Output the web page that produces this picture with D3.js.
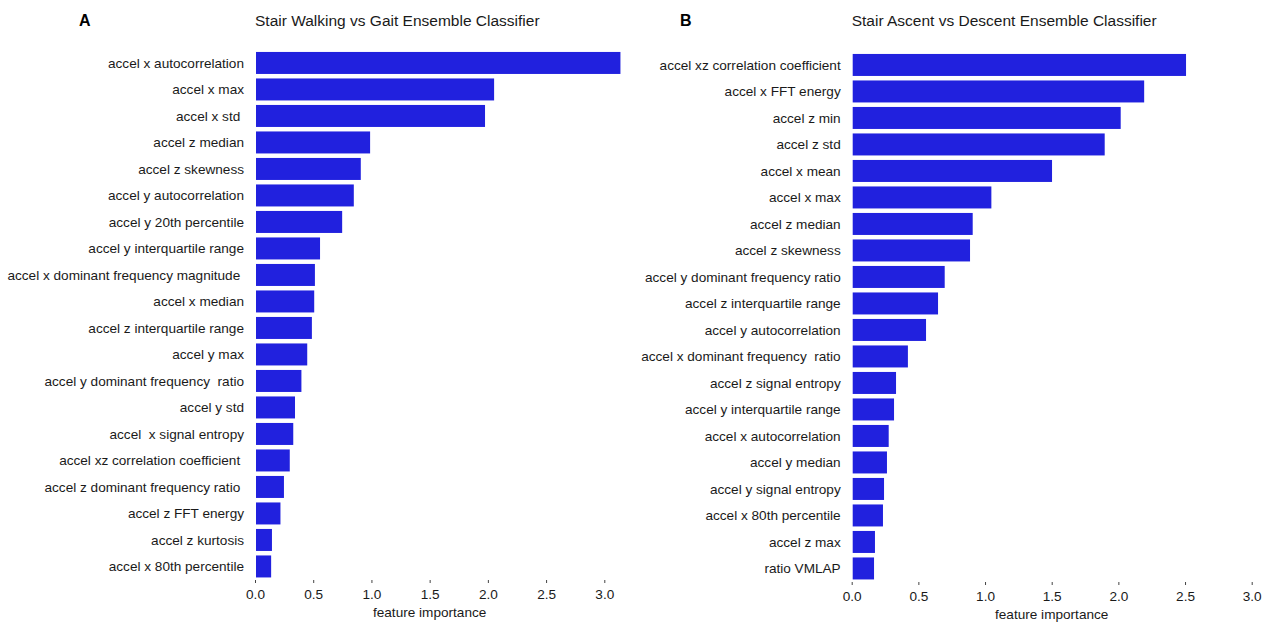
<!DOCTYPE html>
<html>
<head>
<meta charset="utf-8">
<script src="https://cdn.jsdelivr.net/npm/d3@7"></script>
<style>
  html, body { margin: 0; padding: 0; background: #fff; }
  svg { display: block; font-family: "Liberation Sans", Arial, Helvetica, sans-serif; }
  .lbl { white-space: pre; }
</style>
</head>
<body>
<svg id="chart" width="1267" height="623"></svg>
<script>
// Panel A: stair walking vs gait
const featuresA = [
  "accel x autocorrelation", "accel x max", "accel x std ", "accel z median",
  "accel z skewness", "accel y autocorrelation", "accel y 20th percentile",
  "accel y interquartile range", "accel x dominant frequency magnitude ",
  "accel x median", "accel z interquartile range", "accel y max",
  "accel y dominant frequency  ratio", "accel y std", "accel  x signal entropy",
  "accel xz correlation coefficient ", "accel z dominant frequency ratio ",
  "accel z FFT energy", "accel z kurtosis", "accel x 80th percentile"
];
const importanceA = [
  3.13, 2.045, 1.967, 0.98, 0.90, 0.84, 0.74, 0.55, 0.506, 0.50,
  0.48, 0.44, 0.39, 0.335, 0.32, 0.29, 0.24, 0.21, 0.137, 0.13
];

// Panel B: stair ascent vs descent
const featuresB = [
  "accel xz correlation coefficient", "accel x FFT energy", "accel z min",
  "accel z std", "accel x mean", "accel x max", "accel z median",
  "accel z skewness", "accel y dominant frequency ratio",
  "accel z interquartile range", "accel y autocorrelation",
  "accel x dominant frequency  ratio", "accel z signal entropy",
  "accel y interquartile range", "accel x autocorrelation", "accel y median",
  "accel y signal entropy", "accel x 80th percentile", "accel z max", "ratio VMLAP"
];
const importanceB = [
  2.50, 2.186, 2.01, 1.89, 1.495, 1.04, 0.90, 0.88, 0.69, 0.64,
  0.55, 0.414, 0.325, 0.31, 0.27, 0.257, 0.235, 0.227, 0.167, 0.16
];

const tickValues = [0, 0.5, 1.0, 1.5, 2.0, 2.5, 3.0];
const xDomain = [0, 3.0];

const svg = d3.select("#chart");
const barColor = "#2121de";
const textColor = "#1a1a1a";
const labelSize = 13.6;

function drawPanel(cfg) {
  const g = svg.append("g");
  const x = d3.scaleLinear().domain(xDomain).range([cfg.x0, cfg.x1]);
  const y = d3.scaleBand().domain(cfg.features).range([cfg.y0, cfg.y1])
    .paddingInner(0.17).paddingOuter(0.085);
  const data = cfg.features.map((f, i) => ({ f, v: cfg.values[i] }));

  // panel letter and title
  g.append("text").attr("x", cfg.letterX).attr("y", 26)
    .attr("font-size", 16).attr("font-weight", "bold").attr("fill", "#000")
    .text(cfg.letter);
  g.append("text").attr("x", cfg.x0).attr("y", 26)
    .attr("font-size", 15.5).attr("fill", textColor)
    .text(cfg.title);

  // bars
  g.selectAll("rect.bar").data(data).enter().append("rect")
    .attr("class", "bar")
    .attr("x", x(0) + 1)
    .attr("y", d => y(d.f))
    .attr("width", d => x(d.v) - x(0))
    .attr("height", y.bandwidth())
    .attr("fill", barColor);

  // category labels
  g.selectAll("text.lbl").data(data).enter().append("text")
    .attr("class", "lbl")
    .attr("x", x(0) - 11)
    .attr("y", d => y(d.f) + y.bandwidth() / 2)
    .attr("dy", "0.35em")
    .attr("text-anchor", "end")
    .attr("font-size", labelSize)
    .attr("fill", textColor)
    .text(d => d.f);

  // x axis
  const axis = d3.axisBottom(x).tickValues(tickValues)
    .tickFormat(d3.format(".1f")).tickSize(3).tickPadding(6);
  const ax = g.append("g").attr("transform", `translate(0,${cfg.axisY})`).call(axis);
  ax.select(".domain").remove();
  ax.selectAll(".tick line").attr("stroke", "#444");
  ax.selectAll(".tick text").attr("font-size", labelSize).attr("fill", textColor)
    .attr("font-family", "Liberation Sans, Arial, sans-serif");

  g.append("text")
    .attr("x", (cfg.x0 + cfg.x1) / 2).attr("y", cfg.axisY + 37)
    .attr("text-anchor", "middle").attr("font-size", labelSize).attr("fill", textColor)
    .text("feature importance");
}

drawPanel({
  letter: "A", letterX: 79, title: "Stair Walking vs Gait Ensemble Classifier",
  features: featuresA, values: importanceA,
  x0: 255, x1: 604.3, y0: 49.7, y1: 579.7, axisY: 580
});
drawPanel({
  letter: "B", letterX: 680, title: "Stair Ascent vs Descent Ensemble Classifier",
  features: featuresB, values: importanceB,
  x0: 851.7, x1: 1251.7, y0: 51.7, y1: 581.7, axisY: 582
});
</script>
</body>
</html>
